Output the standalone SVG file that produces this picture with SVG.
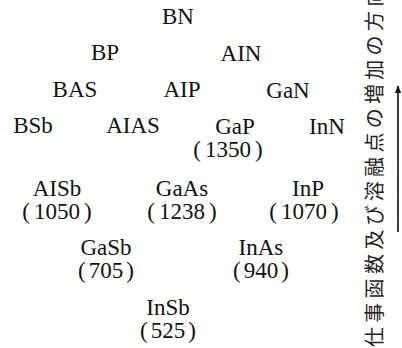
<svg xmlns="http://www.w3.org/2000/svg" width="402" height="348" viewBox="0 0 402 348">
<defs>
  <marker id="ah" viewBox="0 0 10 10" refX="9" refY="5" markerWidth="5" markerHeight="5" orient="auto" markerUnits="strokeWidth">
    <path d="M0,1 L10,5 L0,9 Z" fill="#111"/>
  </marker>
</defs>
<rect width="402" height="348" fill="#fff"/>
<g fill="#111" font-family="Liberation Serif" font-size="23">
<g id="BN"><text font-family="Liberation Serif" x="162" y="24">BN</text></g>
<g id="BP"><text font-family="Liberation Serif" x="91" y="60">BP</text></g>
<g id="AIN"><text font-family="Liberation Serif" x="220.6" y="61">AIN</text></g>
<g id="BAS"><text font-family="Liberation Serif" x="52.6" y="97">BAS</text></g>
<g id="AIP"><text font-family="Liberation Serif" x="163.5" y="97">AIP</text></g>
<g id="GaN"><text font-family="Liberation Serif" x="266.3" y="98">GaN</text></g>
<g id="BSb"><text font-family="Liberation Serif" x="13.2" y="133">BSb</text></g>
<g id="AIAS"><text font-family="Liberation Serif" x="106.2" y="133">AIAS</text></g>
<g id="GaP"><text font-family="Liberation Serif" x="215.2" y="134">GaP</text><text font-family="Liberation Serif" x="193.3" y="157">(<tspan dx="4">1350</tspan><tspan dx="4">)</tspan></text></g>
<g id="InN"><text font-family="Liberation Serif" x="309.1" y="134">InN</text></g>
<g id="AISb"><text font-family="Liberation Serif" x="32.7" y="196">AISb</text><text font-family="Liberation Serif" x="22.3" y="219">(<tspan dx="4">1050</tspan><tspan dx="4">)</tspan></text></g>
<g id="GaAs"><text font-family="Liberation Serif" x="155.8" y="196">GaAs</text><text font-family="Liberation Serif" x="147.3" y="219">(<tspan dx="4">1238</tspan><tspan dx="4">)</tspan></text></g>
<g id="InP"><text font-family="Liberation Serif" x="292" y="196">InP</text><text font-family="Liberation Serif" x="269.3" y="219">(<tspan dx="4">1070</tspan><tspan dx="4">)</tspan></text></g>
<g id="GaSb"><text font-family="Liberation Serif" x="80.4" y="255">GaSb</text><text font-family="Liberation Serif" x="78.1" y="278">(<tspan dx="3">705</tspan><tspan dx="3">)</tspan></text></g>
<g id="InAs"><text font-family="Liberation Serif" x="238.6" y="255">InAs</text><text font-family="Liberation Serif" x="233.1" y="278">(<tspan dx="3">940</tspan><tspan dx="3">)</tspan></text></g>
<g id="InSb"><text font-family="Liberation Serif" x="146.3" y="315">InSb</text><text font-family="Liberation Serif" x="140.1" y="338">(<tspan dx="3">525</tspan><tspan dx="3">)</tspan></text></g>
</g>
<g id="axis-label"><text font-family="Noto Sans CJK JP" font-size="20" fill="#222" letter-spacing="4.3" dominant-baseline="central" transform="translate(373,347) rotate(-90)" x="0" y="0">仕事函数及び溶融点の増加の方向</text></g>
<g id="connectors"><line x1="398" y1="232" x2="398" y2="86" stroke="#111" stroke-width="1.6" marker-end="url(#ah)"/></g>
</svg>
